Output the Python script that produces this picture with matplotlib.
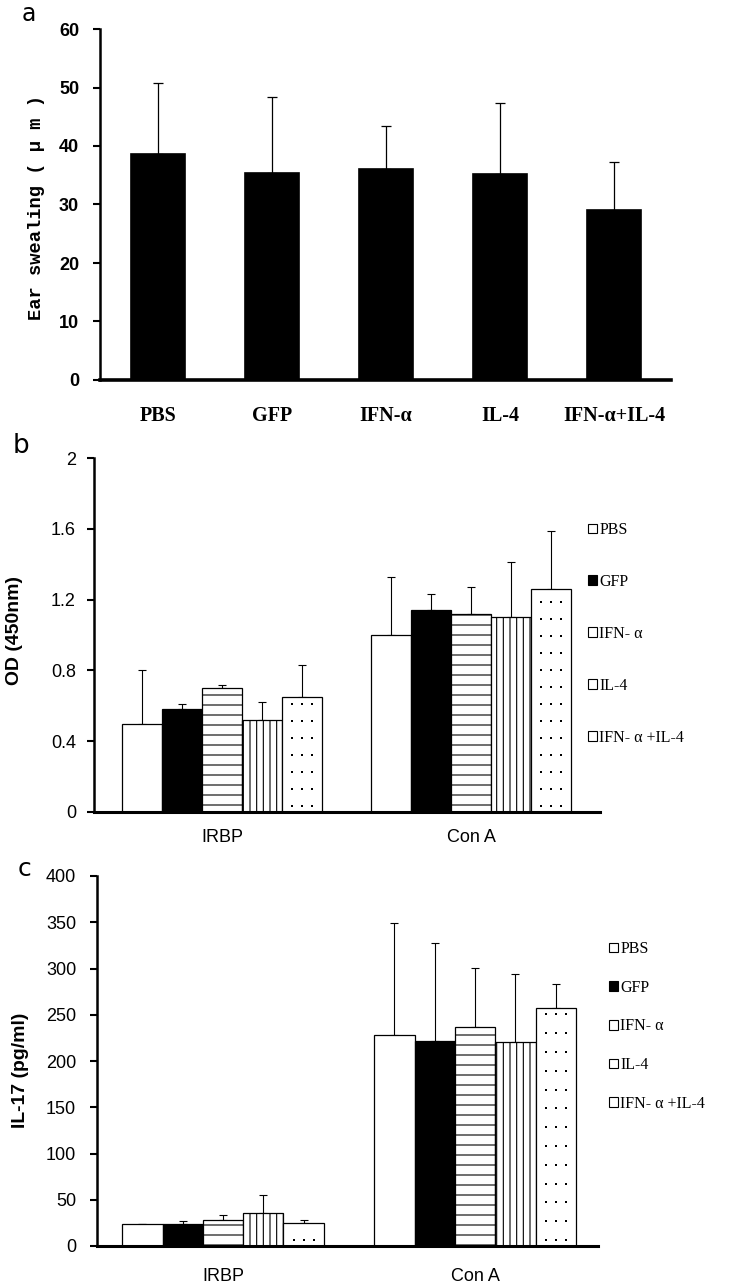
import numpy as np
import matplotlib
matplotlib.use('Agg')
from matplotlib import pyplot as plt
from matplotlib.patches import Patch

# panel a: ear swelling
a_groups = ['PBS', 'GFP', 'IFN-α', 'IL-4', 'IFN-α+IL-4']
a_mean = [38.7, 35.4, 36.1, 35.2, 29.1]
a_sd = [12.0, 13.0, 7.4, 12.1, 8.1]

# panels b and c: one list per treatment, values for [IRBP, Con A]
groups = ['IRBP', 'Con A']
series = ['PBS', 'GFP', 'IFN- α', 'IL-4', 'IFN- α +IL-4']
od_mean = [[0.50, 1.00], [0.58, 1.14], [0.70, 1.12], [0.52, 1.10], [0.65, 1.26]]
od_sd = [[0.30, 0.33], [0.03, 0.09], [0.02, 0.15], [0.10, 0.31], [0.18, 0.33]]
il17_mean = [[23.6, 228], [23.6, 222], [28.6, 237], [35.8, 221], [25.0, 257]]
il17_sd = [[0.0, 121], [3.2, 106], [4.7, 64], [18.9, 73], [2.9, 26]]

faces = ['white', 'black', 'white', 'white', 'white']
hatches = [None, None, '--', '|||', None]
dotted = [False, False, False, False, True]

# dpi 120 so the hatch spacing comes out like the original; K keeps sizes in "100 dpi" units
DPI = 120
K = 100 / DPI
W, H = 735, 1288

plt.rcParams['hatch.linewidth'] = 0.8 * K
narrow = ['Liberation Sans Narrow', 'Liberation Sans', 'DejaVu Sans']
serif = ['Liberation Serif', 'DejaVu Serif']

fig = plt.figure(figsize=(W / DPI, H / DPI), dpi=DPI)


def px_axes(x0, x1, y_top, y_bot):
    return fig.add_axes([x0 / W, 1 - y_bot / H, (x1 - x0) / W, (y_bot - y_top) / H])


def clean(ax, lw_x, lw_y, pad):
    ax.spines['top'].set_visible(False)
    ax.spines['right'].set_visible(False)
    ax.spines['bottom'].set_linewidth(lw_x * K)
    ax.spines['left'].set_linewidth(lw_y * K)
    ax.tick_params(axis='x', length=0)
    ax.tick_params(axis='y', direction='out', length=5 * K, width=1.5 * K, pad=pad * K)


# ---- a ----
ax = px_axes(100, 671, 29, 380)
x = np.arange(len(a_groups))
ax.bar(x, a_mean, width=0.47, color='black', edgecolor='black', zorder=2)
ax.errorbar(x, a_mean, yerr=[np.zeros(len(a_sd)), a_sd], fmt='none',
            ecolor='black', elinewidth=0.9 * K, capsize=3.5 * K, capthick=0.9 * K, zorder=1)
ax.set_xlim(-0.51, 4.5)
ax.set_ylim(0, 60)
ax.set_yticks(range(0, 61, 10))
clean(ax, 2.6, 1.8, 10)
ax.set_xticks(x)
ax.set_xticklabels(a_groups, fontfamily=serif, fontweight='bold', fontsize=14.5 * K)
ax.tick_params(axis='x', pad=19 * K)
for t in ax.get_yticklabels():
    t.set_fontweight('bold')
    t.set_fontsize(13 * K)
    t.set_fontfamily(narrow)
ax.set_ylabel('Ear swealing ( μ m )', fontfamily=['Liberation Mono', 'DejaVu Sans Mono'],
              fontweight='bold', fontsize=13.5 * K)
ax.yaxis.set_label_coords(45 / W, 1 - 207 / H, transform=fig.transFigure)
fig.text(29 / W, 1 - 14 / H, 'a', fontsize=17 * K, ha='center', va='center')


def grouped(ax, mean, sd, width, dot_step, xpad):
    xg = np.arange(len(groups))
    n = len(series)
    unit = ax.get_position().height * H / (ax.get_ylim()[1] - ax.get_ylim()[0])
    for i in range(n):
        xi = xg + (i - (n - 1) / 2) * width
        bars = ax.bar(xi, mean[i], width=width, color=faces[i], edgecolor='black',
                      hatch=hatches[i], linewidth=0.9 * K, label=series[i], zorder=2)
        if dotted[i]:
            # sparse dot fill: three columns, rows every dot_step pixels from the base
            for b in bars:
                rows = np.arange(6, b.get_height() * unit - 3, dot_step) / unit
                cols = b.get_x() + b.get_width() * np.array([0.25, 0.5, 0.75])
                cx, cy = np.meshgrid(cols, rows)
                ax.scatter(cx.ravel(), cy.ravel(), s=(2.2 * 72 / DPI) ** 2, marker='s',
                           color='black', linewidths=0, zorder=3)
        ax.errorbar(xi, mean[i], yerr=[[0, 0], sd[i]], fmt='none', ecolor='black',
                    elinewidth=0.8 * K, capsize=3 * K, capthick=0.8 * K, zorder=1)
    ax.set_xticks(xg)
    ax.set_xticklabels(groups, fontfamily=narrow, fontsize=13 * K)
    ax.tick_params(axis='x', pad=xpad * K)


def legend(ax, x_px, y_px, spacing):
    handles = [Patch(facecolor=faces[i], edgecolor='black', linewidth=0.8 * K)
               for i in range(len(series))]
    ax.legend(handles, series, loc='upper left', bbox_to_anchor=(x_px / W, 1 - y_px / H),
              bbox_transform=fig.transFigure, frameon=False, borderpad=0,
              handlelength=0.55, handleheight=0.55, handletextpad=0.15,
              labelspacing=spacing, prop={'family': serif, 'size': 11.5 * K})


# ---- b ----
ax = px_axes(94, 600, 458, 812)
ax.set_ylim(0, 2)
grouped(ax, od_mean, od_sd, 0.161, 17, 12)
ax.set_xlim(-0.514, 1.518)
ax.set_yticks([0, 0.4, 0.8, 1.2, 1.6, 2])
ax.set_yticklabels(['0', '0.4', '0.8', '1.2', '1.6', '2'], fontfamily=narrow, fontsize=13 * K)
clean(ax, 2.2, 1.8, 8)
ax.set_ylabel('OD (450nm)', fontweight='bold', fontsize=14 * K, fontfamily=['Liberation Sans', 'DejaVu Sans'])
ax.yaxis.set_label_coords(23 / W, 1 - 631 / H, transform=fig.transFigure)
legend(ax, 580, 514, 2.25)
fig.text(21 / W, 1 - 446 / H, 'b', fontsize=19 * K, ha='center', va='center')

# ---- c ----
ax = px_axes(97, 598, 876, 1246)
ax.set_ylim(0, 400)
grouped(ax, il17_mean, il17_sd, 0.16, 18.8, 16)
ax.set_xlim(-0.5, 1.488)
ax.set_yticks(range(0, 401, 50))
ax.set_yticklabels([str(v) for v in range(0, 401, 50)], fontfamily=narrow, fontsize=13 * K)
clean(ax, 2.2, 1.8, 10)
ax.set_ylabel('IL-17 (pg/ml)', fontweight='bold', fontsize=14 * K, fontfamily=['Liberation Sans', 'DejaVu Sans'])
ax.yaxis.set_label_coords(29 / W, 1 - 1070 / H, transform=fig.transFigure)
legend(ax, 601, 933, 1.42)
fig.text(24 / W, 1 - 869 / H, 'c', fontsize=18 * K, ha='center', va='center')

fig.savefig('out.png', dpi=DPI, facecolor='white')
